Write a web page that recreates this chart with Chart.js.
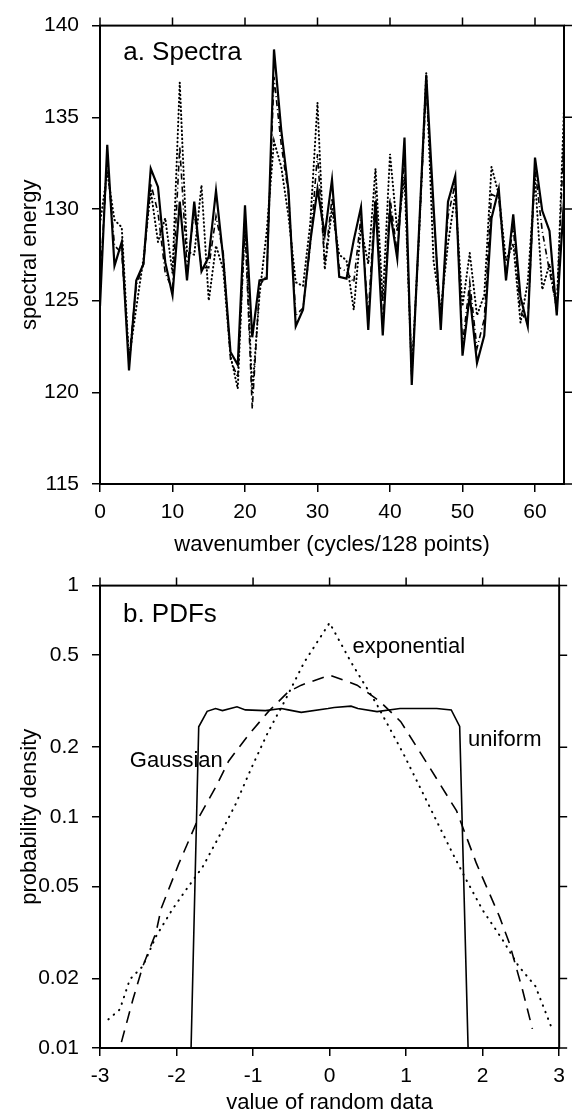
<!DOCTYPE html>
<html>
<head>
<meta charset="utf-8">
<script src="https://cdn.jsdelivr.net/npm/chart.js@4.4.0/dist/chart.umd.min.js"></script>
<style>
  body { margin: 0; background: #fff; }
  #wrap { position: relative; width: 573px; height: 1116px; }
  canvas { position: absolute; left: 0; }
</style>
</head>
<body>
<div id="wrap">
  <canvas id="spectra" width="573" height="560" style="top:0"></canvas>
  <canvas id="pdfs" width="573" height="556" style="top:560px"></canvas>
</div>
<script>
// panel a: spectra (wavenumber 0..64)
const wavenumber = Array.from({length: 65}, (_, i) => i);
const spectraSolid = [124.7,133.5,126.9,128.2,121.2,126.1,127.0,132.2,131.2,127.1,
  125.3,130.4,126.1,130.4,126.6,127.4,131.0,127.3,122.2,121.5,
  130.2,123.0,126.1,126.2,138.7,134.3,131.0,123.6,124.5,128.2,
  131.1,128.6,131.6,126.3,126.2,128.3,130.1,123.4,130.4,123.1,
  129.9,127.3,133.9,120.4,128.8,137.3,130.2,123.4,130.4,131.8,
  122.0,125.3,121.6,123.1,129.5,131.1,126.1,129.7,125.2,123.6,
  132.8,129.9,128.8,124.2,130.5];
const spectraDotted = [129.2,132.0,129.4,129.0,121.8,124.6,127.3,131.0,128.2,129.5,
  126.5,136.9,127.7,127.5,131.3,125.0,128.0,126.7,122.0,120.2,
  129.5,120.0,125.3,128.8,133.7,132.3,129.6,126.0,125.8,129.2,
  135.8,126.7,130.0,127.5,127.2,124.5,129.0,127.0,132.2,125.0,
  133.0,128.8,131.7,121.0,128.5,137.4,127.2,124.5,128.1,130.8,
  124.7,127.6,124.2,125.3,132.3,130.8,127.2,128.1,123.8,126.0,
  131.7,125.6,127.0,124.5,135.5];
const spectraDashDot = [126.0,132.6,128.0,127.6,121.8,125.8,127.0,131.4,129.8,126.5,
  125.6,133.4,126.8,129.8,126.8,126.8,129.6,127.6,121.8,120.8,
  129.0,119.1,125.8,126.4,137.2,133.5,130.8,124.2,124.6,128.0,
  133.0,127.0,130.6,126.8,126.6,126.0,129.6,124.2,131.0,123.6,
  130.6,127.6,132.6,120.8,128.6,136.6,129.8,123.8,129.6,131.4,
  122.6,126.0,122.4,124.0,130.8,130.6,126.4,129.0,124.4,123.8,
  132.2,128.8,126.6,124.6,134.0];
const spectraTicksX = [0, 10, 20, 30, 40, 50, 60];
const spectraTicksY = [115, 120, 125, 130, 135, 140];

// panel b: PDFs
const uniformX = [-1.81,-1.71,-1.60,-1.49,-1.40,-1.21,-1.10,-0.84,-0.63,-0.54,-0.37,-0.02,0.06,0.28,0.37,0.62,0.92,1.14,1.40,1.59,1.70,1.81];
const uniformY = [0.01,0.245,0.286,0.294,0.288,0.299,0.290,0.288,0.294,0.290,0.283,0.294,0.297,0.301,0.294,0.285,0.294,0.294,0.294,0.290,0.246,0.01];
const gaussX = [-2.72,-2.57,-2.44,-2.27,-2.20,-1.97,-1.71,-1.49,-1.32,-1.06,-0.80,-0.54,-0.37,0.0,0.36,0.66,0.93,1.31,1.66,1.92,2.22,2.35,2.52,2.65];
const gaussY = [0.0106,0.0162,0.0226,0.0314,0.0402,0.0627,0.0993,0.134,0.174,0.226,0.285,0.347,0.371,0.41,0.371,0.315,0.258,0.163,0.106,0.0627,0.037,0.0284,0.0179,0.0121];
const expX = [-2.89,-2.74,-2.61,-2.44,-2.27,-2.06,-1.88,-1.66,-1.45,-1.23,-1.02,-0.80,-0.59,-0.33,0.0,0.28,0.62,0.97,1.31,1.61,1.79,2.00,2.26,2.47,2.69,2.89];
const expY = [0.0133,0.0147,0.0198,0.0226,0.0303,0.0395,0.0481,0.0606,0.0815,0.113,0.163,0.234,0.315,0.467,0.69,0.467,0.305,0.186,0.110,0.0692,0.0531,0.0395,0.0294,0.0226,0.0185,0.0125];
const pdfTicksX = [-3, -2, -1, 0, 1, 2, 3];
const pdfTicksY = [0.01, 0.02, 0.05, 0.1, 0.2, 0.5, 1];
const pdfTickLabels = ['0.01', '0.02', '0.05', '0.1', '0.2', '0.5', '1'];

const FONT = 'Liberation Sans, Arial, Helvetica, sans-serif';

const pts = (xs, ys) => xs.map((x, i) => ({x: x, y: ys[i]}));

// box round the plot, ticks on top and right, text notes
const framePlugin = {
  id: 'frame',
  afterDraw(chart, args, opts) {
    const {ctx, chartArea: a, scales} = chart;
    ctx.save();
    ctx.strokeStyle = '#000';
    ctx.lineWidth = 2;
    ctx.strokeRect(a.left, a.top, a.right - a.left, a.bottom - a.top);
    ctx.lineWidth = 1.5;
    ctx.beginPath();
    scales.x.ticks.forEach(t => {
      const px = scales.x.getPixelForValue(t.value);
      ctx.moveTo(px, a.top); ctx.lineTo(px, a.top - 8);
    });
    scales.y.ticks.forEach(t => {
      const py = scales.y.getPixelForValue(t.value);
      ctx.moveTo(a.right, py); ctx.lineTo(a.right + 8, py);
    });
    ctx.stroke();
    ctx.fillStyle = '#000';
    ctx.textAlign = 'left';
    ctx.textBaseline = 'middle';
    (opts.notes || []).forEach(n => {
      ctx.font = n.size + 'px ' + FONT;
      ctx.fillText(n.text, scales.x.getPixelForValue(n.x), scales.y.getPixelForValue(n.y));
    });
    ctx.restore();
  }
};

function axisX(min, max, ticks, title, canvasH, titlePad) {
  return {
    type: 'linear', min: min, max: max,
    afterBuildTicks: s => { s.ticks = ticks.map(v => ({value: v})); },
    afterFit: s => { s.height = canvasH - (canvasH === 560 ? 484 : 488); },
    grid: {drawOnChartArea: false, drawTicks: true, tickLength: 8, color: '#000', lineWidth: 1.5},
    border: {display: true, color: '#000', width: 2},
    ticks: {color: '#000', padding: 8, maxRotation: 0, font: {family: FONT, size: 21}},
    title: {display: true, text: title, color: '#000', padding: {top: 0, bottom: titlePad}, font: {family: FONT, size: 22}}
  };
}

function axisYTitle(text) {
  return {display: true, text: text, color: '#000', padding: {top: 17, bottom: 0}, font: {family: FONT, size: 22}};
}

const yGrid = {drawOnChartArea: false, drawTicks: true, tickLength: 8, color: '#000', lineWidth: 1.5};

new Chart(document.getElementById('spectra'), {
  type: 'line',
  data: {
    labels: wavenumber,
    datasets: [
      {label: 'solid', data: pts(wavenumber, spectraSolid), borderColor: '#000', borderWidth: 2.2},
      {label: 'dotted', data: pts(wavenumber, spectraDotted), borderColor: '#000', borderWidth: 2,
        borderDash: [0.5, 3.5], borderCapStyle: 'round'},
      {label: 'dash-dot', data: pts(wavenumber, spectraDashDot), borderColor: '#000', borderWidth: 1.6,
        borderDash: [6, 3, 1, 3]}
    ]
  },
  options: {
    responsive: false,
    animation: false,
    events: [],
    layout: {padding: {top: 21, right: 9, left: 0, bottom: 0}},
    elements: {point: {radius: 0}, line: {tension: 0}},
    plugins: {
      legend: {display: false},
      tooltip: {enabled: false},
      frame: {notes: [{text: 'a. Spectra', x: 3.2, y: 138.5, size: 26}]}
    },
    scales: {
      x: axisX(0, 64, spectraTicksX, 'wavenumber (cycles/128 points)', 560, 2),
      y: {
        type: 'linear', min: 115, max: 140,
        afterBuildTicks: s => { s.ticks = spectraTicksY.map(v => ({value: v})); },
        afterFit: s => { s.width = 100; },
        grid: yGrid,
        border: {display: true, color: '#000', width: 2},
        ticks: {color: '#000', padding: 13, font: {family: FONT, size: 21}},
        title: axisYTitle('spectral energy')
      }
    }
  },
  plugins: [framePlugin]
});

new Chart(document.getElementById('pdfs'), {
  type: 'line',
  data: {
    datasets: [
      {label: 'uniform', data: pts(uniformX, uniformY), borderColor: '#000', borderWidth: 1.6},
      {label: 'Gaussian', data: pts(gaussX, gaussY), borderColor: '#000', borderWidth: 1.6, borderDash: [12, 8]},
      {label: 'exponential', data: pts(expX, expY), borderColor: '#000', borderWidth: 2,
        borderDash: [0.5, 6.5], borderCapStyle: 'round'}
    ]
  },
  options: {
    responsive: false,
    animation: false,
    events: [],
    layout: {padding: {top: 23, right: 9, left: 0, bottom: 0}},
    elements: {point: {radius: 0}, line: {tension: 0}},
    plugins: {
      legend: {display: false},
      tooltip: {enabled: false},
      frame: {notes: [
        {text: 'b. PDFs', x: -2.70, y: 0.75, size: 26},
        {text: 'exponential', x: 0.30, y: 0.542, size: 22},
        {text: 'uniform', x: 1.81, y: 0.216, size: 22},
        {text: 'Gaussian', x: -2.61, y: 0.174, size: 22}
      ]}
    },
    scales: {
      x: axisX(-3, 3, pdfTicksX, 'value of random data', 556, 0),
      y: {
        type: 'logarithmic', min: 0.01, max: 1,
        afterBuildTicks: s => { s.ticks = pdfTicksY.map(v => ({value: v})); },
        afterFit: s => { s.width = 100; },
        grid: yGrid,
        border: {display: true, color: '#000', width: 2},
        ticks: {color: '#000', padding: 13, font: {family: FONT, size: 21},
          callback: v => pdfTickLabels[pdfTicksY.indexOf(v)]},
        title: axisYTitle('probability density')
      }
    }
  },
  plugins: [framePlugin]
});
</script>
</body>
</html>
